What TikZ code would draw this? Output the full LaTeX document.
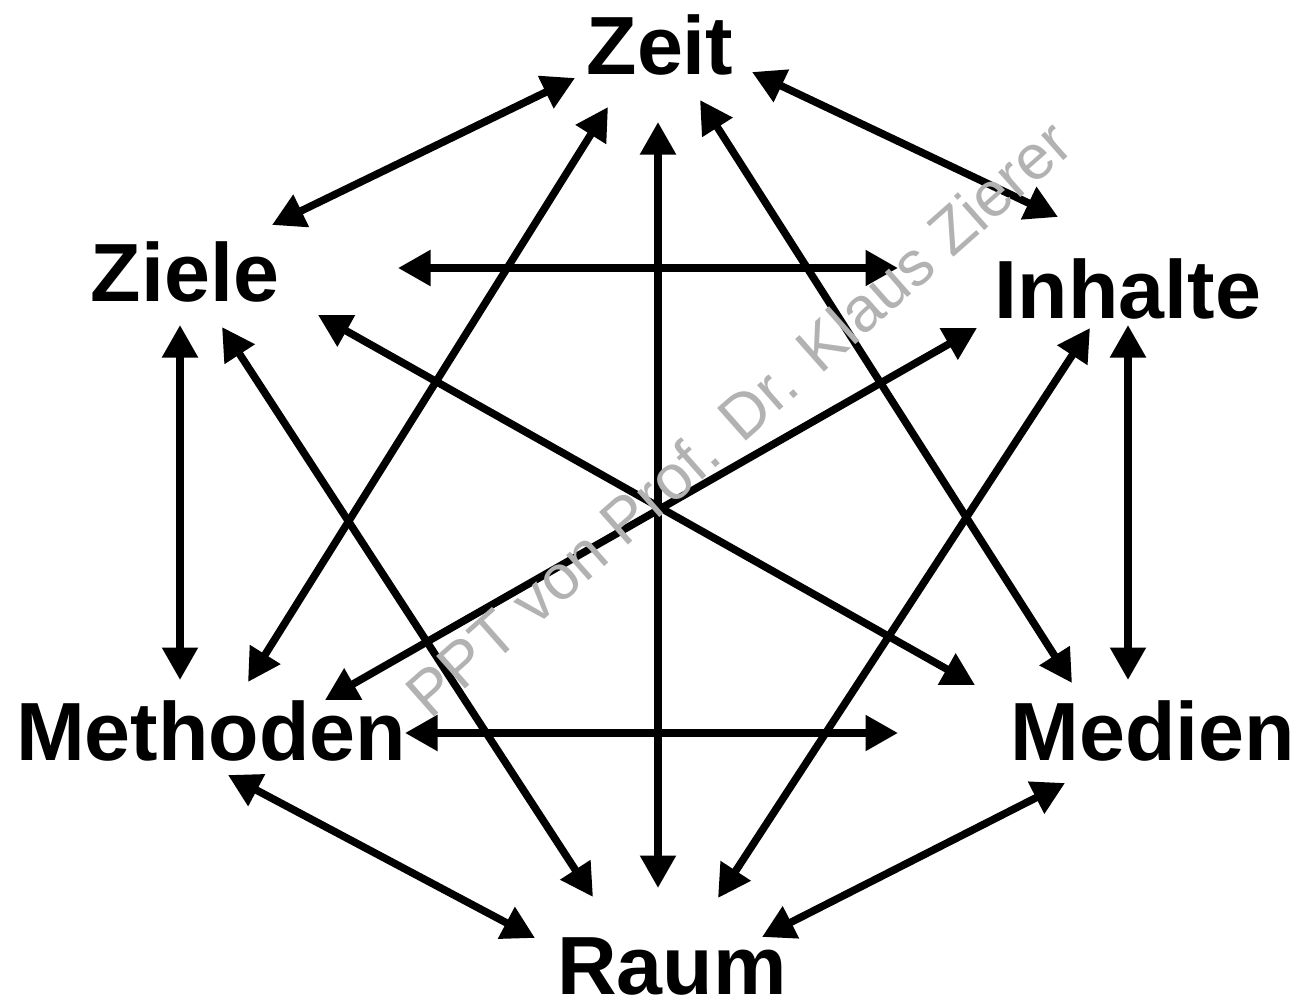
\documentclass[tikz,border=0pt]{standalone}
\usepackage{fontspec}
\setmainfont{Liberation Sans}
\usetikzlibrary{arrows.meta}
\begin{document}
\begin{tikzpicture}[x=0.02cm,y=-0.02cm,
  lbl/.style={font=\fontsize{47}{50}\selectfont\bfseries, inner sep=0pt},
  link/.style={line width=4.3pt, {Triangle[length=18.5pt,width=19.5pt]}-{Triangle[length=18.5pt,width=19.5pt]}},
  wm/.style={font=\fontsize{36}{40}\selectfont, text=black!30, inner sep=0pt}]
\useasboundingbox (0,0) rectangle (1301,1003);
\fill[white] (0,0) rectangle (1301,1003);
% labels
\node[lbl] (zeit) at (660,45) {Zeit};
\node[lbl] (ziele) at (185,272) {Ziele};
\node[lbl] (inhalte) at (1128,289) {Inhalte};
\node[lbl] (methoden) at (211,731) {Methoden};
\node[lbl] (medien) at (1153,731) {Medien};
\node[lbl] (raum) at (672,966) {Raum};
% endpoints
\coordinate (a1) at (575,78);   \coordinate (b1) at (272,225);
\coordinate (a2) at (752,72);   \coordinate (b2) at (1058,217);
\coordinate (a3) at (180,325);  \coordinate (b3) at (180,680);
\coordinate (a4) at (1128,325); \coordinate (b4) at (1128,680);
\coordinate (a5) at (228,775);  \coordinate (b5) at (535,938);
\coordinate (a6) at (1065,783); \coordinate (b6) at (762,937);
\coordinate (a7) at (658,122);  \coordinate (b7) at (658,888);
\coordinate (a8) at (398,268);  \coordinate (b8) at (898,268);
\coordinate (a9) at (405,733);  \coordinate (b9) at (898,733);
\coordinate (a10) at (608,107); \coordinate (b10) at (248,682);
\coordinate (a11) at (700,100); \coordinate (b11) at (1072,683);
\coordinate (a12) at (222,327); \coordinate (b12) at (593,897);
\coordinate (a13) at (1090,328);\coordinate (b13) at (718,898);
\coordinate (a14) at (318,315); \coordinate (b14) at (975,685);
\coordinate (a15) at (977,328); \coordinate (b15) at (325,700);
\foreach \i in {1,...,15} {\draw[link] (a\i) -- (b\i);}
% watermark
\node[wm, rotate=41.5] (wmark) at (738,418) {PPT von Prof. Dr. Klaus Zierer};
\end{tikzpicture}
\end{document}
